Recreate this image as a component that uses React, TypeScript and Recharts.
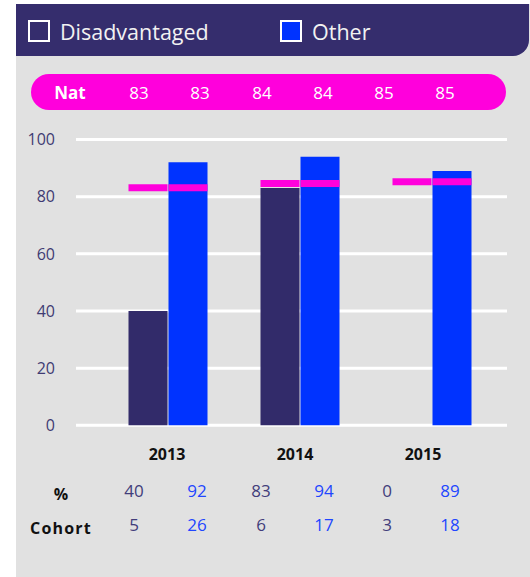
import React from 'react';
import { BarChart, Bar, XAxis, YAxis, CartesianGrid } from 'recharts';

// ---------- data ----------
const years = ['2013', '2014', '2015'];
const disadvantaged = [40, 83, 0];
const other = [92, 94, 89];
const cohortDisadvantaged = [5, 6, 3];
const cohortOther = [26, 17, 18];
const natLabels = [83, 83, 84, 84, 85, 85];
const natLevel = [83.1, 84.6, 85.2];
const yTicks = [0, 20, 40, 60, 80, 100];
const NAT_BAND = 2.45; // thickness of the national marker, in axis units

const data = years.map((y, i) => ({
  year: y,
  dis: disadvantaged[i],
  oth: other[i],
  natBaseA: natLevel[i] - NAT_BAND / 2,
  natBandA: NAT_BAND,
  natBaseB: natLevel[i] - NAT_BAND / 2,
  natBandB: NAT_BAND,
}));

// ---------- style ----------
const DARK = '#352d6d';
const BLUE = '#0033ff';
const MAGENTA = '#ff00dc';
const DIS_TEXT = '#423d7b';
const OTH_TEXT = '#2146ff';
const FONT = '"Open Sans", "Noto Sans", sans-serif';

const Centered: React.FC<{ x: number; y: number; style?: React.CSSProperties; children: React.ReactNode }> = ({ x, y, style, children }) => (
  <div
    style={{
      position: 'absolute',
      left: x,
      top: y,
      transform: 'translate(-50%, -50%)',
      whiteSpace: 'nowrap',
      lineHeight: 1,
      ...style,
    }}
  >
    {children}
  </div>
);

const natCols = [139, 200, 262, 323, 384, 445];
const tableCols = [134, 197, 261, 324, 387, 450];
const yearCols = [167, 295, 423];

export default function App() {
  const pctValues: { v: number; c: string }[] = [];
  const cohortValues: { v: number; c: string }[] = [];
  years.forEach((_, i) => {
    pctValues.push({ v: disadvantaged[i], c: DIS_TEXT });
    pctValues.push({ v: other[i], c: OTH_TEXT });
    cohortValues.push({ v: cohortDisadvantaged[i], c: DIS_TEXT });
    cohortValues.push({ v: cohortOther[i], c: OTH_TEXT });
  });

  return (
    <div style={{ position: 'absolute', left: 0, top: 0, width: 530, height: 577, fontFamily: FONT, overflow: 'hidden', background: '#fff' }}>
      {/* panel */}
      <div style={{ position: 'absolute', left: 16, top: 4, width: 514, height: 573, background: '#e1e1e1' }} />
      {/* header */}
      <div style={{ position: 'absolute', left: 16, top: 4, width: 513, height: 52, background: DARK, borderBottomRightRadius: 16 }} />
      <div style={{ position: 'absolute', left: 28, top: 20, width: 22, height: 22, boxSizing: 'border-box', border: '2px solid #fff', background: DARK }} />
      <div style={{ position: 'absolute', left: 60, top: 32, transform: 'translateY(-50%)', fontSize: 21.5, color: '#f2f2f2', lineHeight: 1 }}>Disadvantaged</div>
      <div style={{ position: 'absolute', left: 280, top: 20, width: 22, height: 22, boxSizing: 'border-box', border: '2px solid #fff', background: BLUE }} />
      <div style={{ position: 'absolute', left: 312, top: 32, transform: 'translateY(-50%)', fontSize: 21.5, color: '#f2f2f2', lineHeight: 1 }}>Other</div>

      {/* national pill */}
      <div style={{ position: 'absolute', left: 31, top: 74, width: 475, height: 35.5, borderRadius: 18, background: MAGENTA }} />
      <Centered x={70} y={92} style={{ color: '#fff', fontWeight: 700, fontSize: 17 }}>Nat</Centered>
      {natLabels.map((n, i) => (
        <Centered key={'nat' + i} x={natCols[i]} y={92} style={{ color: '#fff', fontSize: 17 }}>{n}</Centered>
      ))}

      {/* chart */}
      <div style={{ position: 'absolute', left: 0, top: 0 }}>
        <BarChart
          width={530}
          height={577}
          data={data}
          margin={{ top: 139.5, right: 23, bottom: 151.7, left: 0 }}
          barGap={1}
          barSize={39}
        >
          <CartesianGrid vertical={false} stroke="#ffffff" strokeWidth={3} />
          <XAxis dataKey="year" hide padding={{ left: 25.5, right: 9.5 }} />
          <XAxis xAxisId="nat" dataKey="year" hide padding={{ left: 25.5, right: 9.5 }} />
          <YAxis
            domain={[0, 100]}
            ticks={yTicks}
            interval={0}
            width={76}
            axisLine={false}
            tickLine={false}
            tickSize={0}
            tickMargin={21}
            tick={{ fill: '#3f3b73', fontSize: 16, fontFamily: FONT }}
          />
          <Bar dataKey="dis" fill="#322b6a" isAnimationActive={false} />
          <Bar dataKey="oth" fill={BLUE} isAnimationActive={false} />
          <Bar xAxisId="nat" dataKey="natBaseA" stackId="na" fill="transparent" fillOpacity={0} isAnimationActive={false} />
          <Bar xAxisId="nat" dataKey="natBandA" stackId="na" fill={MAGENTA} isAnimationActive={false} />
          <Bar xAxisId="nat" dataKey="natBaseB" stackId="nb" fill="transparent" fillOpacity={0} isAnimationActive={false} />
          <Bar xAxisId="nat" dataKey="natBandB" stackId="nb" fill={MAGENTA} isAnimationActive={false} />
        </BarChart>
      </div>

      {/* table */}
      {years.map((y, i) => (
        <Centered key={'yr' + y} x={yearCols[i]} y={454} style={{ fontWeight: 700, fontSize: 16, color: '#111' }}>{y}</Centered>
      ))}
      <Centered x={61} y={494} style={{ fontWeight: 700, fontSize: 16, color: '#111' }}>%</Centered>
      <Centered x={61} y={528} style={{ fontWeight: 700, fontSize: 16, color: '#111', letterSpacing: 1.2 }}>Cohort</Centered>
      {pctValues.map((p, i) => (
        <Centered key={'p' + i} x={tableCols[i]} y={490} style={{ fontSize: 17, color: p.c }}>{p.v}</Centered>
      ))}
      {cohortValues.map((p, i) => (
        <Centered key={'c' + i} x={tableCols[i]} y={524} style={{ fontSize: 17, color: p.c }}>{p.v}</Centered>
      ))}
    </div>
  );
}
